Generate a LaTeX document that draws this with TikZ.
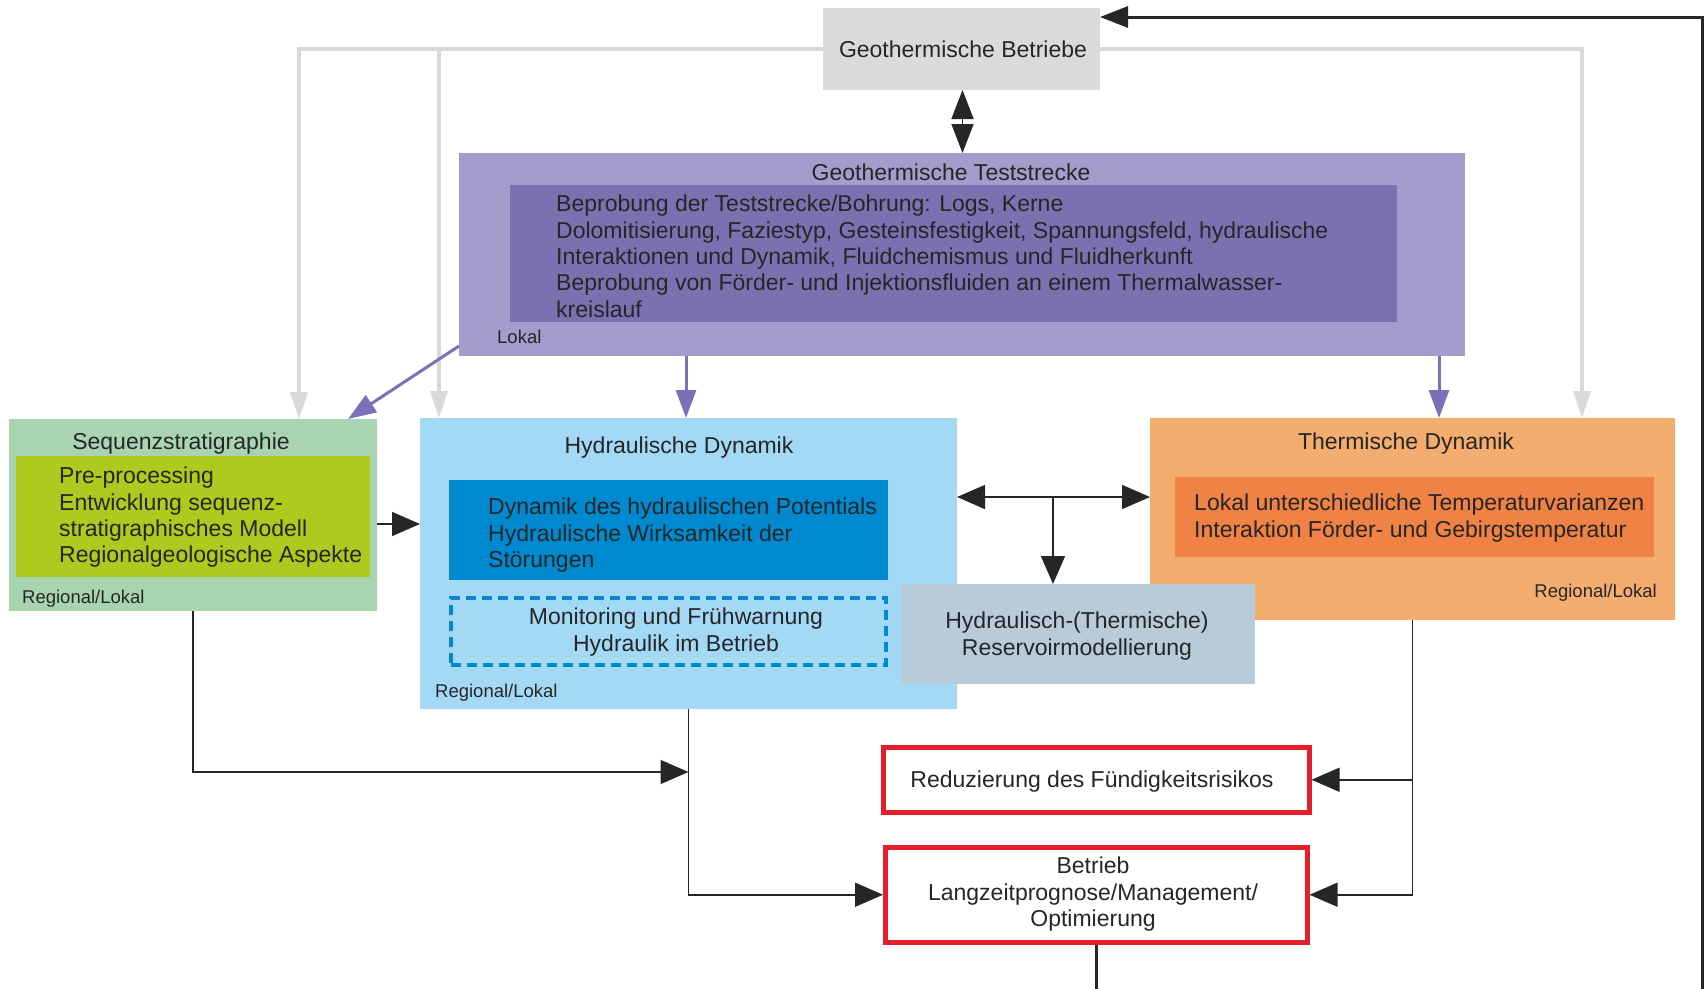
\documentclass[tikz,border=0pt]{standalone}
\usepackage{fontspec}
\setmainfont{Liberation Sans}
\usepackage{tikz}
\usetikzlibrary{arrows.meta, positioning, calc}
\definecolor{betriebgray}{HTML}{D9DADA}
\definecolor{testlight}{HTML}{A69CCB}
\definecolor{testdark}{HTML}{7D70B0}
\definecolor{seqlight}{HTML}{A8D4B1}
\definecolor{seqdark}{HTML}{AFCA1F}
\definecolor{hydlight}{HTML}{A3D9F5}
\definecolor{hyddark}{HTML}{0089CF}
\definecolor{thermlight}{HTML}{F4AC6F}
\definecolor{thermdark}{HTML}{EF8244}
\definecolor{resgray}{HTML}{B7CBD9}
\definecolor{riskred}{HTML}{E3202A}
\definecolor{linegray}{HTML}{D9D9D9}
\definecolor{arrowpurple}{HTML}{7D6FB8}
\definecolor{textdark}{HTML}{262626}
\tikzstyle{panel} = [rectangle, anchor=north west, inner sep=0pt, outer sep=0pt, draw=none]
\tikzstyle{riskbox} = [rectangle, anchor=north west, inner sep=0pt, draw=riskred, line width=4.5pt, fill=white]
\tikzstyle{heading} = [font=\fontsize{23}{26.3}\selectfont, text=textdark, inner sep=0pt, anchor=base]
\tikzstyle{body} = [font=\fontsize{23}{26.3}\selectfont, text=textdark, inner sep=0pt, align=left, anchor=north west]
\tikzstyle{centred} = [font=\fontsize{23}{26.3}\selectfont, text=textdark, inner sep=0pt, align=center, anchor=north]
\tikzstyle{smalltag} = [font=\fontsize{18.5}{21}\selectfont, text=textdark, inner sep=0pt]
\tikzstyle{grayarrow} = [draw=linegray, line width=4pt, -{Triangle[length=27pt,width=17pt]}]
\tikzstyle{purplearrow} = [draw=arrowpurple, line width=3pt, -{Triangle[length=28pt,width=20pt]}]
\tikzstyle{blackarrow} = [draw=textdark, line width=1.6pt, -{Triangle[length=28pt,width=24pt]}]

\begin{document}
\begin{tikzpicture}[x=1pt, y=-1pt]
    \useasboundingbox (0,0) rectangle (1705,988);
    % Geothermische Betriebe
    \node (betriebe) [panel, fill=betriebgray, minimum width=277pt, minimum height=82pt] at (823,8) {};
    \node [heading] at (963,57) {Geothermische Betriebe};

    % Teststrecke
    \node (test) [panel, fill=testlight, minimum width=1006pt, minimum height=203pt] at (459,153) {};
    \node (testin) [panel, fill=testdark, minimum width=887pt, minimum height=137pt] at (510,185) {};
    \node [heading] at (951,180) {Geothermische Teststrecke};
    \node [body] at (556,195) {Beprobung der Teststrecke/Bohrung: Logs, Kerne\\Dolomitisierung, Faziestyp, Gesteinsfestigkeit, Spannungsfeld, hydraulische\\Interaktionen und Dynamik, Fluidchemismus und Fluidherkunft\\Beprobung von Förder- und Injektionsfluiden an einem Thermalwasser-\\kreislauf};
    \node [smalltag, anchor=base west] at (497,343) {Lokal};

    % Sequenzstratigraphie
    \node (seq) [panel, fill=seqlight, minimum width=368pt, minimum height=192pt] at (9,419) {};
    \node (seqin) [panel, fill=seqdark, minimum width=354pt, minimum height=121pt] at (16,456) {};
    \node [heading] at (181,449) {Sequenzstratigraphie};
    \node [body] at (59,467) {Pre-processing\\Entwicklung sequenz-\\stratigraphisches Modell\\Regionalgeologische Aspekte};
    \node [smalltag, anchor=base west] at (22,603) {Regional/Lokal};

    % Hydraulische Dynamik
    \node (hyd) [panel, fill=hydlight, minimum width=537pt, minimum height=291pt] at (420,418) {};
    \node (hydin) [panel, fill=hyddark, minimum width=439pt, minimum height=100pt] at (449,480) {};
    \node (monitor) [panel, draw=hyddark, line width=4pt, dash pattern=on 10pt off 6pt, minimum width=435pt, minimum height=67pt] at (451,598) {};
    \node [heading] at (679,453) {Hydraulische Dynamik};
    \node [body] at (488,498) {Dynamik des hydraulischen Potentials\\Hydraulische Wirksamkeit der\\Störungen};
    \node [centred] at (676,608) {Monitoring und Frühwarnung\\Hydraulik im Betrieb};
    \node [smalltag, anchor=base west] at (435,697) {Regional/Lokal};

    % Thermische Dynamik
    \node (therm) [panel, fill=thermlight, minimum width=525pt, minimum height=202pt] at (1150,418) {};
    \node (thermin) [panel, fill=thermdark, minimum width=479pt, minimum height=80pt] at (1175,477) {};
    \node [heading] at (1406,449) {Thermische Dynamik};
    \node [body] at (1194,494) {Lokal unterschiedliche Temperaturvarianzen\\Interaktion Förder- und Gebirgstemperatur};
    \node [smalltag, anchor=base east] at (1657,597) {Regional/Lokal};

    % Reservoirmodellierung
    \node (res) [panel, fill=resgray, minimum width=354pt, minimum height=100pt] at (901,584) {};
    \node [centred] at (1077,612) {Hydraulisch-(Thermische)\\Reservoirmodellierung};

    % Ergebnisse
    \node (reduz) [riskbox, minimum width=426pt, minimum height=65pt] at (881,745) {};
    \node [heading] at (1092,787) {Reduzierung des Fündigkeitsrisikos};
    \node (betrieb) [riskbox, minimum width=422pt, minimum height=95pt] at (883,845) {};
    \node [centred] at (1093,857) {Betrieb\\Langzeitprognose/Management/\\Optimierung};

    % Arrows
    \draw [grayarrow] (betriebe.west) -| ([xshift=106pt]seq.north);
    \draw [grayarrow] ([xshift=19pt]hyd.north west |- betriebe.west) -- ([xshift=19pt]hyd.north west);
    \draw [grayarrow] (betriebe.east) -| ([xshift=-93pt]therm.north east);
    \draw [blackarrow, {Triangle[length=29pt,width=22pt]}-{Triangle[length=29pt,width=22pt]}] ([xshift=1pt]betriebe.south) -- ([xshift=1pt]betriebe.south |- test.north);

    \draw [purplearrow] ([yshift=10pt]test.south west) -- ([xshift=-29pt]seq.north east);
    \draw [purplearrow] ([xshift=266pt]hyd.north west |- test.south) -- ([xshift=266pt]hyd.north west);
    \draw [purplearrow] ([xshift=289pt]therm.north west |- test.south) -- ([xshift=289pt]therm.north west);

    \draw [blackarrow] ([yshift=-9pt]seq.east) -- ([yshift=-9pt]seq.east -| hyd.west);
    \coordinate (hj) at (1053,497);
    \draw [blackarrow, {Triangle[length=28pt,width=24pt]}-{Triangle[length=28pt,width=24pt]}] (hj -| hyd.east) -- (hj -| therm.west);
    \draw [blackarrow] (hj) -- (hj |- res.north);

    \draw [blackarrow] (seq.south) |- (hyd.south |- 0,772);
    \draw [blackarrow] (hyd.south) |- (betrieb.west);
    \draw [blackarrow] (therm.south) |- (betrieb.east);
    \draw [blackarrow] (therm.south |- reduz.east) -- (reduz.east);

    \coordinate (loopcorner) at (1702,1000);
    \draw [blackarrow, line width=3pt, -{Triangle[length=28pt,width=21pt]}] (betrieb.south) |- (loopcorner) |- ([yshift=-9pt]betriebe.north east);
\end{tikzpicture}
\end{document}
